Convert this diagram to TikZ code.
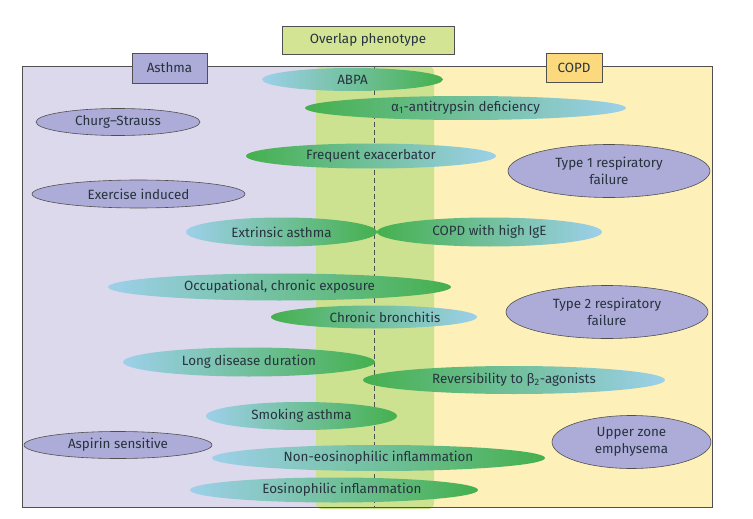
\documentclass[tikz,border=0pt]{standalone}
\usepackage{fontspec}
\setmainfont{Fira Sans}
\usetikzlibrary{shapes.geometric}
\definecolor{lav}{HTML}{DDD9EC}
\definecolor{ylw}{HTML}{FEF0B9}
\definecolor{band}{HTML}{CCE290}
\definecolor{eblue}{HTML}{9DD0EA}
\definecolor{egreen}{HTML}{45B04E}
\definecolor{purp}{HTML}{ADABD7}
\definecolor{ink}{HTML}{27333F}
\definecolor{gold}{HTML}{FCD97C}
\definecolor{ovl}{HTML}{D4E495}
\definecolor{edge}{HTML}{505050}
\begin{document}
\begin{tikzpicture}[x=1pt,y=-1pt,
  font=\fontsize{13.4}{17}\selectfont, text=ink,
  ell/.style={ellipse, inner sep=0pt, minimum height=26pt},
  bgell/.style={ell, left color=eblue, right color=egreen},
  gbell/.style={ell, left color=egreen, right color=eblue},
  pell/.style={ellipse, draw=edge, fill=purp, inner sep=0pt, line width=0.6pt, align=center},
  tagbox/.style={rectangle, draw=edge, line width=0.6pt, inner sep=0pt}]
\useasboundingbox (0,0) rectangle (753,519);
\fill[white] (0,0) rectangle (753,519);
% backgrounds
\fill[lav] (22,66) rectangle (374,507);
\fill[ylw] (374,66) rectangle (712,507);
\fill[band, rounded corners=6pt] (316,66) rectangle (434,509);
\draw[edge, line width=0.6pt] (22,66) rectangle (712,507);
\coordinate (dtop) at (374,66);
\coordinate (dbot) at (374,507);
\draw[edge, line width=0.6pt, dash pattern=on 5pt off 3pt] (dtop) -- (dbot);
% boxes
\node[tagbox, fill=ovl, minimum width=172pt, minimum height=28pt] (ovl) at (368,40) {Overlap phenotype};
\node[tagbox, fill=purp, minimum width=75pt, minimum height=30pt] (asthma) at (169.5,68) {Asthma};
\node[tagbox, fill=gold, minimum width=56pt, minimum height=29pt] (copd) at (574,67.5) {COPD};
% gradient ellipses
\node[bgell, minimum width=181pt, minimum height=23pt] (abpa) at (352.5,79.5) {ABPA};
\node[gbell, minimum width=321pt, minimum height=24pt] (a1at) at (465.5,108) {α\textsubscript{1}-antitrypsin deficiency};
\node[gbell, minimum width=250pt, minimum height=25pt] (freq) at (371,156) {Frequent exacerbator};
\node[bgell, minimum width=191pt, minimum height=29pt] (extr) at (281.5,232) {Extrinsic asthma};
\node[gbell, minimum width=225pt, minimum height=29pt] (ige) at (489.5,232) {COPD with high IgE};
\node[bgell, minimum width=343pt, minimum height=27pt] (occ) at (279.5,287) {Occupational, chronic exposure};
\node[gbell, minimum width=206pt, minimum height=23pt] (chb) at (374,317) {\hspace*{22pt}Chronic bronchitis};
\node[bgell, minimum width=252pt, minimum height=29pt] (long) at (249,362) {Long disease duration};
\node[gbell, minimum width=302pt, minimum height=28pt] (rev) at (514,380) {Reversibility to β\textsubscript{2}-agonists};
\node[bgell, minimum width=191pt, minimum height=28pt] (smok) at (301.5,416) {Smoking asthma};
\node[bgell, minimum width=333pt, minimum height=26pt] (neos) at (378.5,458) {Non-eosinophilic inflammation};
\node[bgell, minimum width=288pt, minimum height=25pt] (eos) at (334,490) {\hspace*{16pt}Eosinophilic inflammation};
% purple ellipses
\node[pell, minimum width=164pt, minimum height=27pt] (churg) at (118,122) {Churg--Strauss};
\node[pell, minimum width=213pt, minimum height=28pt] (exer) at (138.5,194) {Exercise induced};
\node[pell, minimum width=202pt, minimum height=53pt] (t1) at (609,171) {Type 1 respiratory\\failure};
\node[pell, minimum width=202pt, minimum height=53pt] (t2) at (607,312) {Type 2 respiratory\\failure};
\node[pell, minimum width=159pt, minimum height=53pt] (uze) at (631.5,442) {Upper zone\\emphysema};
\node[pell, minimum width=188pt, minimum height=27pt] (asp) at (118,445) {Aspirin sensitive};
\end{tikzpicture}
\end{document}
